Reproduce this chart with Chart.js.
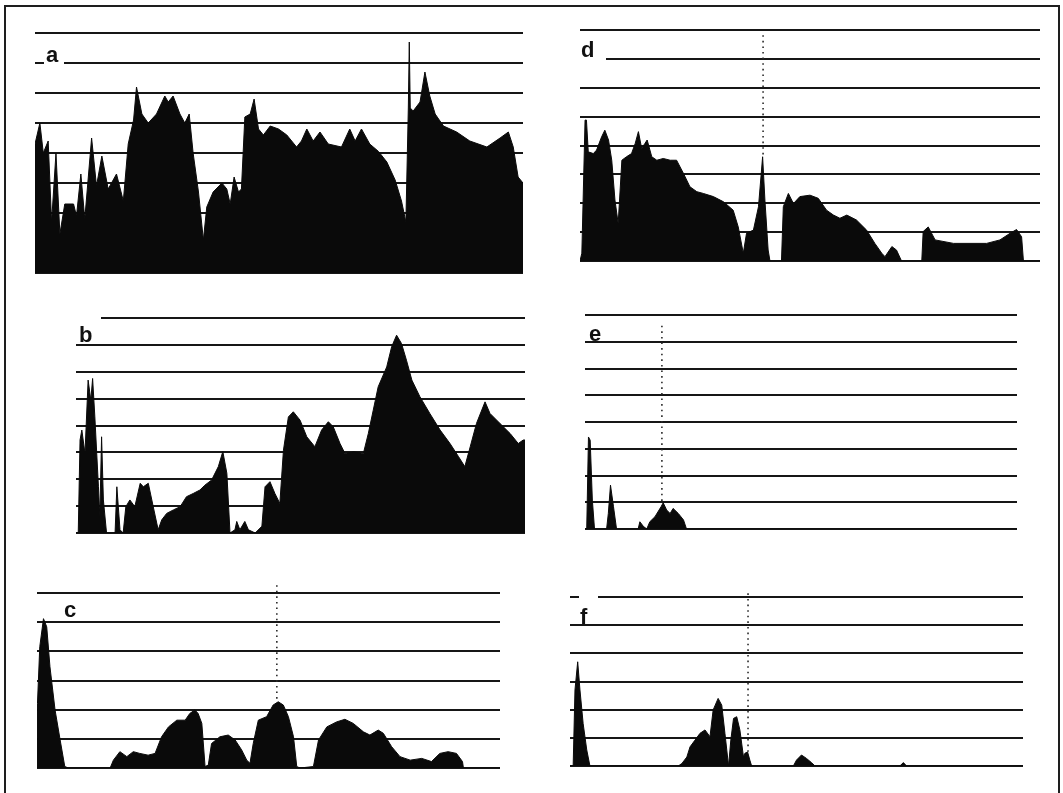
<!DOCTYPE html>
<html>
<head>
<meta charset="utf-8">
<script src="https://cdn.jsdelivr.net/npm/chart.js@4.4.1/dist/chart.umd.min.js"></script>
<style>
  html, body { margin:0; padding:0; background:#fff; width:1063px; height:793px; overflow:hidden; }
  #frame { position:absolute; left:4px; top:5px; width:1056px; height:830px; border:2px solid #1e1e1e; box-sizing:border-box; }
  canvas { position:absolute; }
  .mask { position:absolute; background:#fff; }
  .lbl { position:absolute; font-family:"Liberation Sans", Arial, sans-serif; font-weight:bold; font-size:22px; line-height:22px; color:#111; }
</style>
</head>
<body>
<div id="frame"></div>
<script>
// ---- panel a ----
const aX = [0,1.0,1.7,2.7,3.4,4.3,5.1,6.1,7.9,8.5,9.4,10.2,11.6,12.6,13.7,15.0,16.7,18.1,19.1,20.2,20.8,21.9,23.2,24.9,26.6,27.3,28.3,29.7,30.7,31.6,32.4,33.5,34.5,35.2,36.5,38.3,39.3,40.0,40.8,41.7,42.3,43.0,44.1,44.9,45.8,46.8,48.2,49.9,51.6,53.6,54.6,55.7,57.0,58.4,60.1,62.8,64.5,65.6,66.9,68.6,70.4,72.1,73.8,75.1,76.0,76.5,76.7,76.9,77.5,78.9,79.9,80.9,82.0,83.7,86.4,89.1,92.6,95.3,97.0,98.0,99.0,100];
const aY = [4.3,5.0,4.0,4.4,1.7,4.0,1.3,2.3,2.3,1.9,3.3,1.8,4.5,2.9,3.9,2.8,3.3,2.4,4.3,5.1,6.2,5.3,5.0,5.3,5.9,5.7,5.9,5.3,5.0,5.3,4.0,2.7,1.1,2.2,2.7,3.0,2.8,2.3,3.2,2.7,2.8,5.2,5.3,5.8,4.8,4.6,4.9,4.8,4.6,4.2,4.4,4.8,4.4,4.7,4.3,4.2,4.8,4.4,4.8,4.3,4.05,3.7,3.1,2.4,1.7,5.5,7.7,5.5,5.4,5.7,6.7,5.9,5.3,4.9,4.7,4.4,4.2,4.5,4.7,4.2,3.2,3.0];

// ---- panel b ----
const bX = [0,0.5,0.9,1.3,2.0,2.7,3.3,3.7,4.2,5.0,5.3,5.7,6.1,6.8,8.7,9.1,9.8,10.5,11.1,12.0,13.1,14.3,15.0,16.1,17.2,18.3,19.1,20.2,21.7,23.2,24.6,26.1,27.6,28.7,30.2,31.7,32.7,33.6,34.3,35.4,35.8,36.5,37.6,38.4,39.9,41.4,42.1,43.2,44.3,45.4,46.2,47.3,48.4,49.9,51.4,53.2,54.7,56.2,57.3,58.8,59.9,61.8,64.0,65.1,66.2,67.3,69.2,70.3,71.4,72.5,73.6,74.8,76.6,78.8,81.1,83.3,85.2,86.6,87.8,89.2,91.1,92.2,94.4,96.7,98.5,99.6,100];
const bY = [0,0,3.46,3.83,2.96,5.69,4.94,5.75,4.32,1.72,0.61,3.58,1.23,0,0,1.72,0.12,0,0.98,1.23,0.98,1.85,1.72,1.85,0.98,0.12,0.49,0.73,0.86,0.98,1.35,1.47,1.6,1.78,1.97,2.47,3.03,2.22,0,0.12,0.43,0.12,0.43,0.12,0,0.25,1.72,1.91,1.47,1.1,3.08,4.32,4.51,4.2,3.58,3.21,3.83,4.14,3.95,3.33,2.96,3.02,2.96,3.7,4.57,5.44,6.18,6.93,7.36,7.05,6.43,5.69,5.07,4.45,3.83,3.33,2.84,2.47,3.21,4.08,4.88,4.45,4.08,3.7,3.33,3.46,3.46];

// ---- panel c ----
const cX = [0,0.1,0.6,1.4,2.1,2.8,3.9,5.0,6.0,6.8,15.8,16.5,17.9,19.4,20.8,22.2,24.0,25.5,26.9,28.4,30.2,32.0,33.0,34.1,34.8,35.6,36.3,37.0,37.7,39.5,41.3,42.8,44.2,45.3,46.0,46.7,47.8,49.6,51.0,52.1,53.2,54.3,55.4,56.1,56.8,59.7,60.8,62.6,64.7,66.5,68.3,70.5,71.9,73.7,74.8,76.6,78.4,80.6,83.1,85.2,87.0,88.8,90.6,91.9,92.1,100];
const cY = [0,2.21,4.16,5.12,4.84,3.47,1.99,0.96,0.05,0,0,0.27,0.56,0.39,0.56,0.5,0.44,0.5,1.07,1.41,1.64,1.64,1.87,1.99,1.87,1.53,0.05,0.1,0.84,1.07,1.13,0.96,0.62,0.27,0.16,0.84,1.64,1.76,2.16,2.27,2.16,1.76,1.07,0.05,0,0.05,0.96,1.41,1.58,1.67,1.53,1.24,1.13,1.3,1.19,0.73,0.39,0.27,0.33,0.22,0.5,0.56,0.5,0.22,0,0];

// ---- panel d ----
const dX = [0,0.4,1.1,1.4,1.8,2.9,3.6,4.7,5.4,6.2,6.9,7.6,8.3,9.1,10.1,11.2,12.0,12.7,13.4,14.1,14.6,15.6,16.7,18.1,19.6,21.0,22.5,23.9,25.4,26.8,29.0,31.2,33.3,34.4,35.5,36.2,37.7,38.8,39.7,40.2,40.9,41.3,43.8,44.2,45.3,46.4,47.8,50.0,51.8,53.6,55.1,56.5,58.0,60.1,62.3,64.1,65.6,66.3,67.8,68.8,69.9,74.3,74.6,75.7,77.2,81.2,88.4,91.3,93.5,94.9,96.0,96.4,100];
const dY = [0,0.27,4.88,4.88,3.78,3.72,3.84,4.3,4.53,4.19,3.49,2.11,1.3,3.49,3.61,3.72,4.07,4.48,3.9,4.07,4.19,3.61,3.49,3.55,3.49,3.49,3.03,2.57,2.4,2.34,2.23,2.05,1.76,1.18,0.27,0.96,1.07,1.88,3.61,2.11,0.38,0,0,1.88,2.34,1.99,2.23,2.28,2.17,1.76,1.59,1.48,1.59,1.42,1.07,0.61,0.27,0.15,0.5,0.38,0,0,1.02,1.18,0.73,0.61,0.61,0.73,0.96,1.09,0.84,0,0];

// ---- panel e ----
const eX = [0,0.4,0.8,1.2,1.7,2.2,5.0,5.4,5.9,6.6,7.3,12.3,12.7,13.5,14.3,15.0,16.2,17.6,18.1,18.9,19.7,20.4,21.6,22.8,23.5,100];
const eY = [0,0,3.44,3.32,1.08,0,0,0.58,1.64,0.83,0,0,0.27,0.1,0,0.27,0.46,0.83,0.98,0.71,0.58,0.77,0.58,0.34,0,0];

// ---- panel f ----
const fX = [0,0.7,1.1,1.7,2.2,2.9,3.7,4.4,23.9,24.7,25.8,26.5,27.6,28.7,29.8,30.9,31.6,32.7,33.5,34.2,35.0,35.5,36.1,36.8,37.5,38.3,38.6,39.2,39.7,40.1,49.3,50.0,51.1,52.2,53.3,54.1,72.8,73.6,74.3,100];
const fY = [0,0,2.7,3.7,2.7,1.51,0.57,0,0,0.09,0.32,0.68,0.92,1.16,1.28,1.04,1.99,2.4,2.16,1.16,0,0.92,1.69,1.75,1.28,0.32,0.45,0.5,0.21,0,0,0.21,0.39,0.27,0.12,0,0,0.12,0,0];

// dotted reference lines: [x, top, bottom]
const cMark = [51.8, 6.27, 2.33];
const dMark = [39.8, 7.82, 3.61];
const eMark = [17.8, 7.6, 1.05];
const fMark = [39.3, 6.13, 0.2];

const PAD = 12;
const panels = [
  { label:'a', xs:aX, ys:aY, ymax:8, box:[35,33,523,273], mark:null,  txt:[46,63], mask:[44,58,20,8] },
  { label:'b', xs:bX, ys:bY, ymax:8, box:[76,318,525,533], mark:null, txt:[79,343], mask:[74,314,27,7] },
  { label:'c', xs:cX, ys:cY, ymax:6, box:[37,593,500,768], mark:cMark, txt:[64,618], mask:null },
  { label:'d', xs:dX, ys:dY, ymax:8, box:[580,30,1040,261], mark:dMark, txt:[581,58], mask:[578,53,28,8] },
  { label:'e', xs:eX, ys:eY, ymax:8, box:[585,315,1017,529], mark:eMark, txt:[589,342], mask:null },
  { label:'f', xs:fX, ys:fY, ymax:6, box:[570,597,1023,766], mark:fMark, txt:[580,625], mask:[579,593,19,8] }
];

panels.forEach(p => {
  const [L,T,R,B] = p.box;
  const cv = document.createElement('canvas');
  cv.width = R - L; cv.height = (B - T) + 2*PAD;
  cv.style.left = L + 'px'; cv.style.top = (T - PAD) + 'px';
  cv.style.width = (R - L) + 'px'; cv.style.height = ((B - T) + 2*PAD) + 'px';
  document.body.appendChild(cv);

  const pts = p.xs.map((x,i) => ({x:x, y:p.ys[i]}));
  const datasets = [{
    data: pts, fill:'origin', backgroundColor:'#0a0a0a', borderColor:'#0a0a0a',
    borderWidth:1, pointRadius:0, tension:0
  }];
  if (p.mark) {
    datasets.push({
      data:[{x:p.mark[0], y:p.mark[1]}, {x:p.mark[0], y:p.mark[2]}],
      fill:false, borderColor:'#2a2a2a', borderWidth:1.6, borderDash:[1.6,4],
      pointRadius:0, clip:false
    });
  }
  new Chart(cv, {
    type:'line',
    data:{ datasets },
    options:{
      responsive:false, animation:false, events:[],
      layout:{ padding:{ top:PAD, bottom:PAD, left:0, right:0 } },
      plugins:{ legend:{display:false}, tooltip:{enabled:false} },
      scales:{
        x:{ type:'linear', min:0, max:100, display:false },
        y:{ min:0, max:p.ymax, ticks:{ display:false, stepSize:1 },
            grid:{ color:'#161616', lineWidth:2, drawTicks:false },
            border:{ display:false } }
      }
    }
  });

  if (p.mask) {
    const m = document.createElement('div');
    m.className = 'mask';
    m.style.left = p.mask[0] + 'px'; m.style.top = p.mask[1] + 'px';
    m.style.width = p.mask[2] + 'px'; m.style.height = p.mask[3] + 'px';
    document.body.appendChild(m);
  }
  const t = document.createElement('div');
  t.className = 'lbl';
  t.textContent = p.label;
  t.style.left = p.txt[0] + 'px';
  t.style.top = (p.txt[1] - 18.6) + 'px';
  document.body.appendChild(t);
});
</script>
</body>
</html>
